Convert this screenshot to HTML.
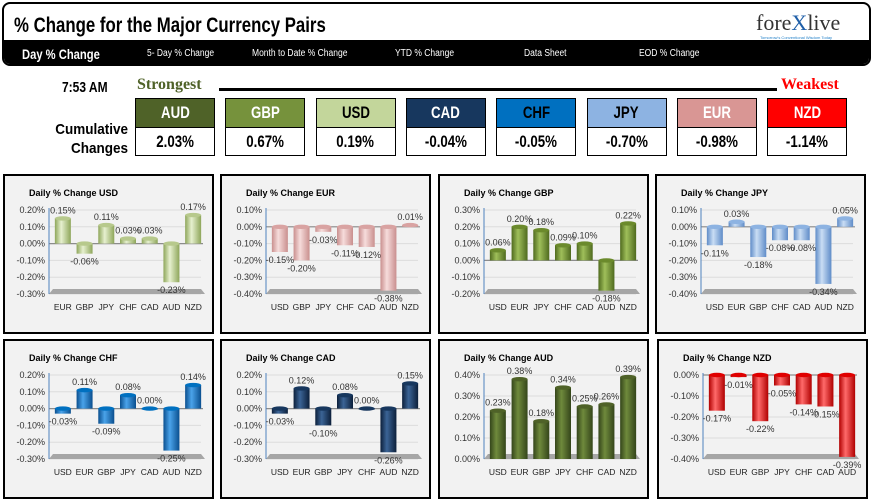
<!DOCTYPE html>
<html><head><meta charset="utf-8"><style>
body{margin:0;width:874px;height:502px;background:#fff;overflow:hidden;position:relative;font-family:"Liberation Sans",sans-serif}
.abs{position:absolute}
.nar{font-family:"Liberation Sans Narrow","Liberation Sans",sans-serif;font-weight:bold}
.sq{display:inline-block;transform:scaleX(0.78);transform-origin:center}
.box{position:absolute;width:80px;border:1px solid #000;box-sizing:border-box}
.bh{height:28px;line-height:28px;text-align:center;font-size:17px;border-bottom:1px solid #000}
.bv{height:27px;line-height:27px;text-align:center;font-size:17px;background:#fff;color:#000}
.panel{position:absolute;width:211px;height:160px;border:2px solid #000;box-sizing:border-box;background:#f2f2f2}
</style></head><body>
<div class="abs" style="left:2px;top:2px;width:869px;height:64px;border:2px solid #000;border-radius:8px;background:#fff;overflow:hidden;box-sizing:border-box">
 <div class="abs nar" style="left:10px;top:10px;font-size:21px;transform:scaleX(0.8);transform-origin:left">% Change for the Major Currency Pairs</div>
 <div class="abs" style="left:752px;top:6px;font-family:'Liberation Serif',serif;font-size:22px;color:#333">fore<span style="color:#1f5fa8">X</span>live</div>
 <div class="abs" style="left:756px;top:31px;font-size:4px;color:#1f7fc8">Tomorrow's Conventional Wisdom Today</div>
 <div class="abs" style="left:0;top:36px;width:100%;height:28px;background:#000;color:#fff">
  <div class="abs nar" style="left:18px;top:6px;font-size:14px;transform:scaleX(0.8);transform-origin:left">Day % Change</div>
  <div class="abs" style="left:143px;top:8px;font-size:10px;transform:scaleX(0.85);transform-origin:left">5- Day % Change</div>
  <div class="abs" style="left:248px;top:8px;font-size:10px;transform:scaleX(0.85);transform-origin:left">Month to Date % Change</div>
  <div class="abs" style="left:391px;top:8px;font-size:10px;transform:scaleX(0.85);transform-origin:left">YTD % Change</div>
  <div class="abs" style="left:520px;top:8px;font-size:10px;transform:scaleX(0.85);transform-origin:left">Data Sheet</div>
  <div class="abs" style="left:635px;top:8px;font-size:10px;transform:scaleX(0.85);transform-origin:left">EOD % Change</div>
 </div>
</div>
<div class="abs nar" style="left:62px;top:79px;font-size:15px;transform:scaleX(0.8);transform-origin:left">7:53 AM</div>
<div class="abs nar" style="left:137px;top:76px;font-size:16px;color:#4f6228;font-family:'Liberation Serif',serif">Strongest</div>
<div class="abs" style="left:219px;top:88px;width:558px;height:3px;background:#000"></div>
<div class="abs nar" style="left:781px;top:76px;font-size:16px;color:#f00;font-family:'Liberation Serif',serif">Weakest</div>
<div class="abs nar" style="left:40px;top:120px;font-size:15px;text-align:right;width:88px;line-height:19px;transform:scaleX(0.9);transform-origin:right">Cumulative Changes</div>
<div id="boxes"></div>
<div id="panels"></div>
<script>
const rankCurrencies=["AUD","GBP","USD","CAD","CHF","JPY","EUR","NZD"];
const rankValues=["2.03%","0.67%","0.19%","-0.04%","-0.05%","-0.70%","-0.98%","-1.14%"];
const rankColors=["#4f6228","#76923c","#c3d69b","#17375e","#0070c0","#8db3e2","#d99694","#ff0000"];
const rankText=["#fff","#fff","#000","#fff","#000","#000","#fff","#fff"];

const usdCats=["EUR","GBP","JPY","CHF","CAD","AUD","NZD"];
const usdVals=[0.15,-0.06,0.11,0.03,0.03,-0.23,0.17];
const usdTicks=[0.2,0.1,0,-0.1,-0.2,-0.3];
const eurCats=["USD","GBP","JPY","CHF","CAD","AUD","NZD"];
const eurVals=[-0.15,-0.20,-0.03,-0.11,-0.12,-0.38,0.01];
const eurTicks=[0.1,0,-0.1,-0.2,-0.3,-0.4];
const gbpCats=["USD","EUR","JPY","CHF","CAD","AUD","NZD"];
const gbpVals=[0.06,0.20,0.18,0.09,0.10,-0.18,0.22];
const gbpTicks=[0.3,0.2,0.1,0,-0.1,-0.2];
const jpyCats=["USD","EUR","GBP","CHF","CAD","AUD","NZD"];
const jpyVals=[-0.11,0.03,-0.18,-0.08,-0.08,-0.34,0.05];
const jpyTicks=[0.1,0,-0.1,-0.2,-0.3,-0.4];
const chfCats=["USD","EUR","GBP","JPY","CAD","AUD","NZD"];
const chfVals=[-0.03,0.11,-0.09,0.08,0.00,-0.25,0.14];
const chfTicks=[0.2,0.1,0,-0.1,-0.2,-0.3];
const cadCats=["USD","EUR","GBP","JPY","CHF","AUD","NZD"];
const cadVals=[-0.03,0.12,-0.10,0.08,0.00,-0.26,0.15];
const cadTicks=[0.2,0.1,0,-0.1,-0.2,-0.3];
const audCats=["USD","EUR","GBP","JPY","CHF","CAD","NZD"];
const audVals=[0.23,0.38,0.18,0.34,0.25,0.26,0.39];
const audTicks=[0.4,0.3,0.2,0.1,0];
const nzdCats=["USD","EUR","GBP","JPY","CHF","CAD","AUD"];
const nzdVals=[-0.17,-0.01,-0.22,-0.05,-0.14,-0.15,-0.39];
const nzdTicks=[0,-0.1,-0.2,-0.3,-0.4];

const boxes=document.getElementById('boxes');
rankCurrencies.forEach((c,i)=>{
  const b=document.createElement('div');
  b.className='box';b.style.left=(135+i*90.3)+'px';b.style.top='98px';
  
  
  b.innerHTML='<div class="bh nar" style="background:'+rankColors[i]+';color:'+rankText[i]+'"><span class="sq">'+c+'</span></div><div class="bv nar"><span class="sq">'+rankValues[i]+'</span></div>';
  boxes.appendChild(b);
});

const charts=[
 {t:"USD",c:usdCats,v:usdVals,k:usdTicks,col:["#8ea65a","#e6f0cf","#b7c98c"],x:3,y:174},
 {t:"EUR",c:eurCats,v:eurVals,k:eurTicks,col:["#c98f8e","#f6dcdb","#d9a3a2"],x:220,y:174},
 {t:"GBP",c:gbpCats,v:gbpVals,k:gbpTicks,col:["#4f6a1e","#9fbf5a","#6b8a2c"],x:438,y:174},
 {t:"JPY",c:jpyCats,v:jpyVals,k:jpyTicks,col:["#5f8cc8","#c9ddf4","#8db3e2"],x:655,y:174},
 {t:"CHF",c:chfCats,v:chfVals,k:chfTicks,col:["#0a4f8f","#4aa3ea","#0070c0"],x:3,y:339},
 {t:"CAD",c:cadCats,v:cadVals,k:cadTicks,col:["#0c1f3a","#3b6496","#17375e"],x:220,y:339},
 {t:"AUD",c:audCats,v:audVals,k:audTicks,col:["#34451a","#6f8a3c","#4f6228"],x:438,y:339},
 {t:"NZD",c:nzdCats,v:nzdVals,k:nzdTicks,col:["#b00000","#ff6a6a","#e00000"],x:657,y:339}
];
const NS="http://www.w3.org/2000/svg";
const panels=document.getElementById('panels');
function el(tag,attrs,parent){const e=document.createElementNS(NS,tag);for(const a in attrs)e.setAttribute(a,attrs[a]);parent.appendChild(e);return e;}
charts.forEach((ch,ci)=>{
  const p=document.createElement('div');
  p.className='panel';p.style.left=ch.x+'px';p.style.top=ch.y+'px';
  
  
  panels.appendChild(p);
  const s=document.createElementNS(NS,'svg');
  s.setAttribute('width','207');s.setAttribute('height','156');
  s.setAttribute('style','position:absolute;left:0;top:0');
  p.appendChild(s);
  const defs=el('defs',{},s);
  const g=el('linearGradient',{id:'g'+ci,x1:0,x2:1,y1:0,y2:0},defs);
  el('stop',{offset:'0','stop-color':ch.col[0]},g);
  el('stop',{offset:'0.4','stop-color':ch.col[1]},g);
  el('stop',{offset:'1','stop-color':ch.col[0]},g);
  const t=el('text',{x:24,y:20,'font-size':'9','font-weight':'bold',fill:'#000'},s);
  t.textContent='Daily % Change '+ch.t;
  
  
  const top=34,bot=118,left=44,right=196;
  const max=ch.k[0],min=ch.k[ch.k.length-1];
  const Y=v=>top+(max-v)/(max-min)*(bot-top);
  const band=(right-left)/ch.c.length;
  const X=i=>left+3+(i+0.5)*band;
  ch.k.forEach(k=>{
    el('line',{x1:left,x2:right,y1:Y(k),y2:Y(k),stroke:'#dcdcdc','stroke-width':1},s);
    const tl=el('text',{x:left-4,y:Y(k)+3,'font-size':'9','text-anchor':'end',fill:'#333'},s);
    tl.textContent=k.toFixed(2)+'%';
    
    
  });
  const fl=el('polygon',{points:`${left},${bot} ${right+4},${bot} ${right},${bot-5} ${left+4},${bot-5}`,fill:'#a6a6a6'},s);
  
  
  if(min<0&&max>0||max===0){el('line',{x1:left,x2:right+2,y1:Y(0),y2:Y(0),stroke:'#8c8c8c','stroke-width':1.2},s);}
  el('line',{x1:left,x2:left,y1:top-2,y2:bot,stroke:'#4f81bd','stroke-width':1},s);
  const base=Y(Math.max(min,Math.min(max,0)));
  ch.v.forEach((v,i)=>{
    const y=Y(v),cx=X(i),w=16;
    const y0=Math.min(y,base),h=Math.abs(base-y);
    const r=el('rect',{x:cx-w/2,y:y0,width:w,height:Math.max(h,1),fill:'url(#g'+ci+')'},s);
    
    
    el('ellipse',{cx:cx,cy:y0,rx:w/2,ry:2.2,fill:ch.col[2]},s);
    const lt=el('text',{x:cx,y:v>=0?y-5:y+11,'font-size':'9','text-anchor':'middle',fill:'#333'},s);
    lt.textContent=v.toFixed(2)+'%';
    
    
    const cl=el('text',{x:cx,y:bot+16,'font-size':'8.5','text-anchor':'middle',fill:'#222'},s);
    cl.textContent=ch.c[i];
    
    
  });
});
</script>
</body></html>
